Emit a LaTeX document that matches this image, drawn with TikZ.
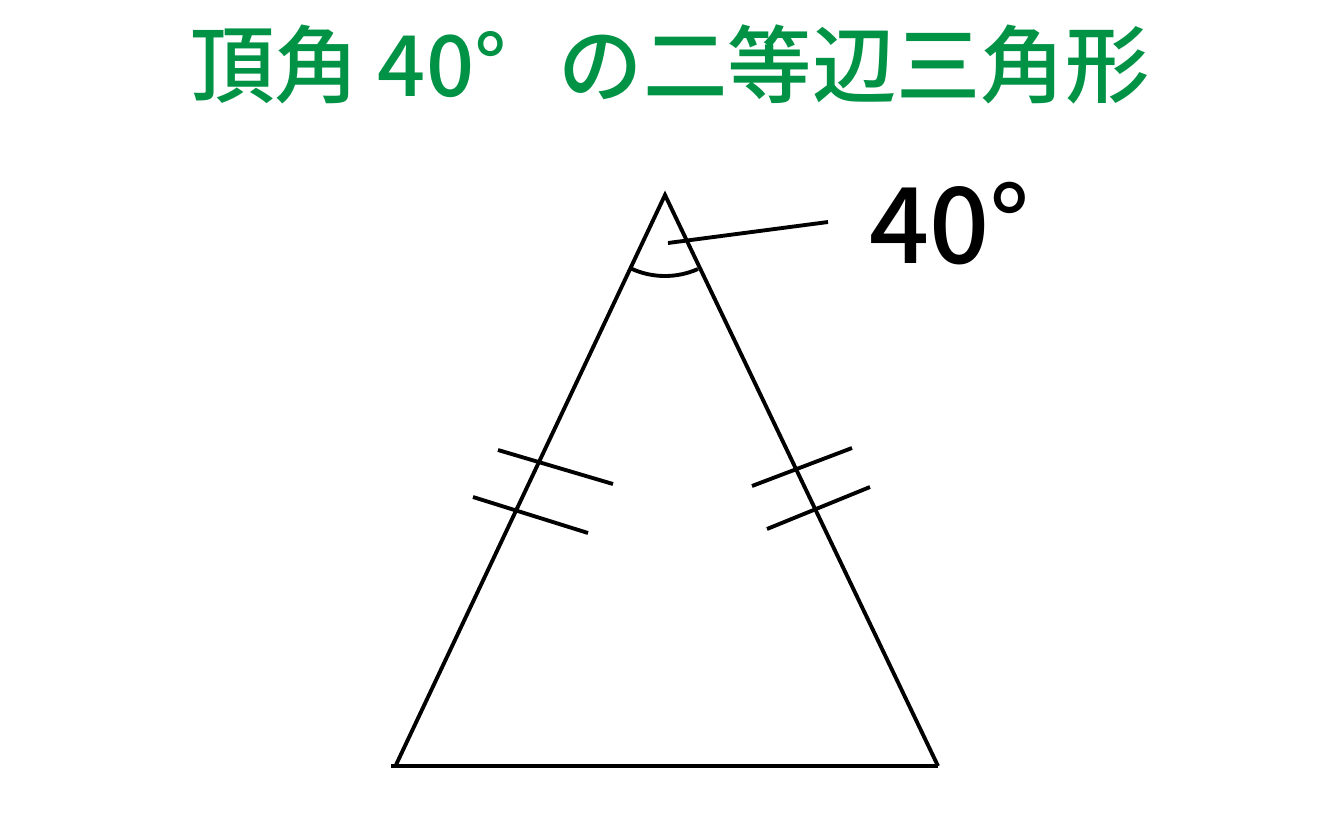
\documentclass[tikz,border=0pt]{standalone}
\usepackage{fontspec}
\usepackage{tikz}
\usetikzlibrary{positioning}
\newfontfamily\jpfont{Noto Sans CJK JP Medium}
\definecolor{titlegreen}{RGB}{0,146,69}
\tikzset{
	edge/.style={line width=1.1pt, black},
	tick/.style={line width=1.1pt, black},
}

\begin{document}
\begin{tikzpicture}[x=0.01cm,y=-0.01cm]

	\useasboundingbox (0,0) rectangle (1333,833);

	\node (title)[titlegreen, font=\jpfont\fontsize{24}{24}\selectfont] at (670,64) {頂角 40°\hspace{0.62em}の二等辺三角形};

	\coordinate (apex) at (665,195);
	\coordinate (baseL) at (395,767);
	\coordinate (baseR) at (938,766);
	\coordinate (baseLx) at (391,766);

	\draw [edge] (baseL) -- (apex) -- (baseR);
	\draw [edge] (baseLx) -- (baseR);

	% angle mark at the top
	\draw [edge] (apex) ++(115:81) arc (115:66:81);

	\node (ang)[font=\jpfont\fontsize{30}{30}\selectfont, anchor=west] at (857,224) {40°};
	\coordinate (leadin) at (668,243);
	\coordinate (leadout) at (828,222);
	\draw [edge] (leadin) -- (leadout);

	% equal-length ticks
	\draw [tick] (498,450) -- (613,484);
	\draw [tick] (473,497) -- (588,533);
	\draw [tick] (752,486) -- (852,448);
	\draw [tick] (767,529) -- (870,487);

\end{tikzpicture}
\end{document}
